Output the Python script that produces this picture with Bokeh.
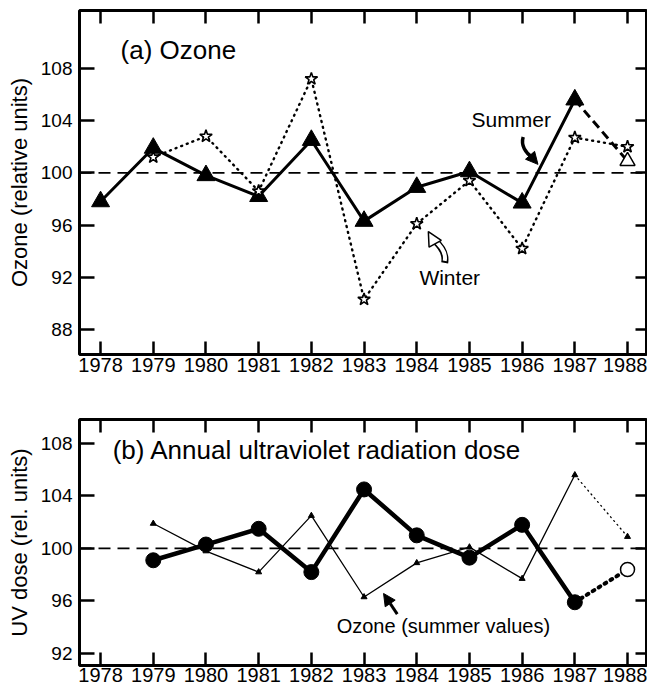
from bokeh.plotting import figure
from bokeh.layouts import column
from bokeh.models import FixedTicker, LinearAxis, Range1d, Span, Label, Arrow, NormalHead
from bokeh.embed import file_html
from bokeh.resources import INLINE

# ---------------- data ----------------
years = [1978, 1979, 1980, 1981, 1982, 1983, 1984, 1985, 1986, 1987, 1988]
summer_ozone = [97.8, 101.9, 99.8, 98.2, 102.5, 96.3, 98.9, 100.1, 97.7, 105.6, 100.9]
winter_years = [1979, 1980, 1981, 1982, 1983, 1984, 1985, 1986, 1987, 1988]
winter_ozone = [101.2, 102.8, 98.6, 107.2, 90.3, 96.1, 99.4, 94.2, 102.7, 102.0]
uv_years = [1979, 1980, 1981, 1982, 1983, 1984, 1985, 1986, 1987, 1988]
uv_dose = [99.1, 100.3, 101.5, 98.2, 104.5, 101.0, 99.3, 101.8, 95.9, 98.4]
ozone_ticks_a = [88, 92, 96, 100, 104, 108]
ticks_b = [92, 96, 100, 104, 108]
reference_level = 100

FONT = "Liberation Sans"


def style(p, yticks, ylabel, std):
    p.grid.visible = False
    p.outline_line_color = "black"
    p.outline_line_width = 3
    p.background_fill_color = "white"
    p.border_fill_color = "white"
    xa = p.xaxis[0]
    xa.ticker = FixedTicker(ticks=years)
    xa.major_tick_in = 13
    xa.major_tick_out = 0
    xa.major_tick_line_width = 2.5
    xa.minor_tick_line_color = None
    xa.axis_line_color = None
    xa.major_label_text_font = FONT
    xa.major_label_text_font_size = "20px"
    xa.major_label_text_color = "black"
    xa.major_label_standoff = std
    ya = p.yaxis[0]
    ya.ticker = FixedTicker(ticks=yticks)
    ya.major_tick_in = 15
    ya.major_tick_out = 0
    ya.major_tick_line_width = 2.5
    ya.minor_tick_line_color = None
    ya.axis_line_color = None
    ya.major_label_text_font = FONT
    ya.major_label_text_font_size = "19px"
    ya.major_label_text_color = "black"
    ya.major_label_standoff = 7
    ya.axis_label = ylabel
    ya.axis_label_text_font = FONT
    ya.axis_label_text_font_size = "22px"
    ya.axis_label_text_font_style = "normal"
    ya.axis_label_text_color = "black"
    ya.axis_label_standoff = 6
    top = LinearAxis(ticker=FixedTicker(ticks=years), major_tick_in=13, major_tick_out=0,
                     major_tick_line_width=2.5, minor_tick_line_color=None, axis_line_color=None,
                     major_label_text_font_size="0px", major_label_text_color=None,
                     major_label_standoff=0,
                     major_label_overrides={y: "" for y in years})
    p.add_layout(top, "above")
    right = LinearAxis(ticker=FixedTicker(ticks=yticks), major_tick_in=11, major_tick_out=0,
                       major_tick_line_width=2.5, minor_tick_line_color=None, axis_line_color=None,
                       major_label_text_font_size="0px", major_label_text_color=None,
                       major_label_standoff=0,
                       major_label_overrides={y: "" for y in yticks})
    p.add_layout(right, "right")
    p.add_layout(Span(location=reference_level, dimension="width", line_color="black",
                      line_dash="12 7", line_width=1.8))


XR = (1977.60, 1988.36)

# ---------------- panel (a) ----------------
p1 = figure(width=647, height=385, x_range=Range1d(*XR), y_range=Range1d(86.08, 112.44),
            output_backend="svg", toolbar_location=None,
            min_border_left=79, min_border_right=1, min_border_top=10, min_border_bottom=31)
style(p1, ozone_ticks_a, "Ozone (relative units)", 3)

p1.line(years[:10], summer_ozone[:10], line_color="black", line_width=3)
p1.line(years[9:], summer_ozone[9:], line_color="black", line_width=3, line_dash="9 5")
p1.line(winter_years, winter_ozone, line_color="black", line_width=2.4, line_dash="1 5",
        line_cap="round")
p1.scatter(years[:10], summer_ozone[:10], marker="triangle", size=18,
           fill_color="black", line_color="black")
p1.scatter(years[10:], summer_ozone[10:], marker="triangle", size=15,
           fill_color="white", line_color="black", line_width=1.5)
p1.scatter(winter_years, winter_ozone, marker="star", size=13,
           fill_color="white", line_color="black", line_width=1.6)

p1.add_layout(Label(x=1978.38, y=109.4, text="(a) Ozone", text_font=FONT, text_font_size="26px",
                    text_baseline="middle", text_color="black"))
p1.add_layout(Label(x=1985.04, y=104.05, text="Summer", text_font=FONT, text_font_size="21px",
                    text_baseline="middle", text_color="black"))
p1.add_layout(Label(x=1984.05, y=92.0, text="Winter", text_font=FONT, text_font_size="21px",
                    text_baseline="middle", text_color="black"))

# Summer arrow (filled, curved)
p1.bezier(x0=[1986.02], y0=[102.75], x1=[1986.19], y1=[101.2], cx0=[1985.97], cy0=[102.1],
          cx1=[1986.07], cy1=[101.5], line_color="black", line_width=3.5)
p1.add_layout(Arrow(end=NormalHead(size=12, fill_color="black", line_color="black"),
                    x_start=1986.16, y_start=101.3, x_end=1986.3, y_end=100.65,
                    line_width=0, line_color="black"))
# Winter arrow (hollow, curved)
p1.bezier(x0=[1984.53], y0=[93.1], x1=[1984.33], y1=[94.85], cx0=[1984.56], cy0=[93.8],
          cx1=[1984.46], cy1=[94.4], line_color="black", line_width=7)
p1.bezier(x0=[1984.53], y0=[93.25], x1=[1984.33], y1=[94.85], cx0=[1984.56], cy0=[93.8],
          cx1=[1984.46], cy1=[94.4], line_color="white", line_width=4)
p1.add_layout(Arrow(end=NormalHead(size=14, fill_color="white", line_color="black", line_width=1.5),
                    x_start=1984.31, y_start=94.85, x_end=1984.22, y_end=95.5,
                    line_width=0, line_color="black"))

# ---------------- panel (b) ----------------
p2 = figure(width=647, height=304, x_range=Range1d(*XR), y_range=Range1d(91.08, 109.83),
            output_backend="svg", toolbar_location=None,
            min_border_left=79, min_border_right=1, min_border_top=34, min_border_bottom=24)
style(p2, ticks_b, "UV dose (rel. units)", 2)

p2.line(uv_years[:9], summer_ozone[1:10], line_color="black", line_width=1.3)
p2.line(years[9:], summer_ozone[9:], line_color="black", line_width=1.3, line_dash="1 4",
        line_cap="round")
p2.line(uv_years[:9], uv_dose[:9], line_color="black", line_width=4.5)
p2.line(uv_years[8:], uv_dose[8:], line_color="black", line_width=4, line_dash="2 5",
        line_cap="round")
p2.scatter(uv_years, summer_ozone[1:], marker="triangle", size=6,
           fill_color="black", line_color="black")
p2.scatter(uv_years[:9], uv_dose[:9], marker="circle", size=15,
           fill_color="black", line_color="black")
p2.scatter(uv_years[9:], uv_dose[9:], marker="circle", size=14,
           fill_color="white", line_color="black", line_width=1.5)

p2.add_layout(Label(x=1978.23, y=107.5, text="(b) Annual ultraviolet radiation dose",
                    text_font=FONT, text_font_size="26px", text_baseline="middle",
                    text_color="black"))
p2.add_layout(Label(x=1982.48, y=94.1, text="Ozone (summer values)", text_font=FONT,
                    text_font_size="20px", text_baseline="middle", text_color="black"))
p2.add_layout(Arrow(end=NormalHead(size=12, fill_color="black", line_color="black"),
                    x_start=1983.63, y_start=95.0, x_end=1983.37, y_end=96.57,
                    line_width=3, line_color="black"))

layout = column(p1, p2, spacing=0)
open("out.html", "w").write(file_html(layout, INLINE))
